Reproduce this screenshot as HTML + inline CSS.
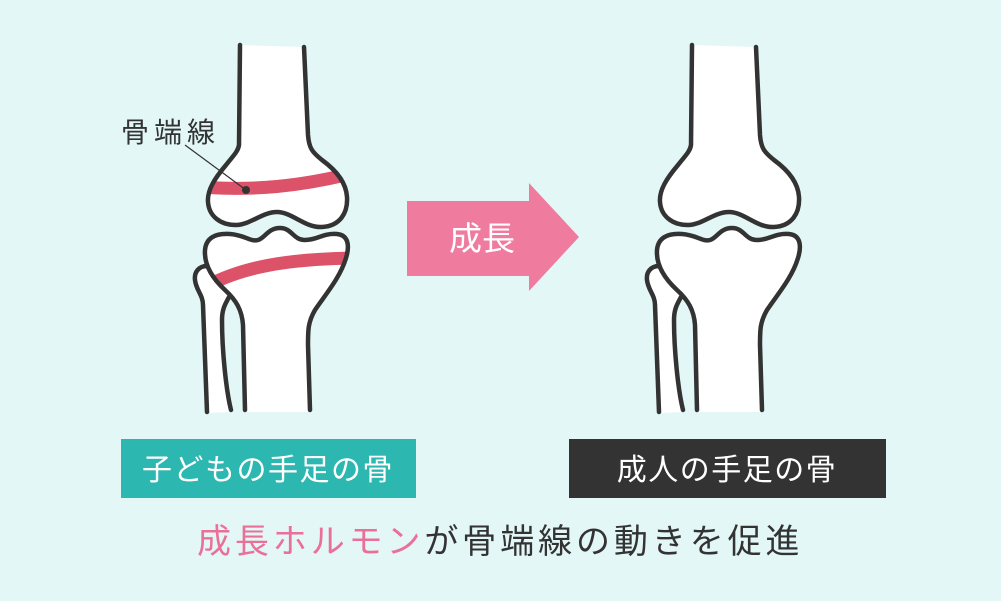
<!DOCTYPE html>
<html><head><meta charset="utf-8"><style>
html,body{margin:0;padding:0;background:#e3f7f7;}
svg{display:block;font-family:"Liberation Sans","Noto Sans CJK JP",sans-serif;}
</style></head><body>
<svg width="1001" height="601" viewBox="0 0 1001 601">
<rect width="1001" height="601" fill="#e3f7f7"/>
<defs>
<g id="bone">
<path id="fem" d="M240,45 L239,145 C238,152 232,157 226,165 C215,178 207,190 208,202 C209,216 220,225 236,225 C250,225 262,212 277,212 C292,212 305,228 322,227 C340,226 348,213 347,197 C346,180 333,168 322,160 C312,152 309,148 308,135 L304,47 Z" fill="#fff"/>
<path d="M211,266 C200,266 194,272 195,280 C196,290 203,295 203,305 L207,413 L231,412 C226,390 222,350 222,320 L229,297 Z" fill="#fff"/>
<path d="M245,412 L243,325 C242,310 236,300 225,290 C212,278 204,265 205,250 C206,238 215,233 230,234 C245,235 250,242 258,240 C265,238 268,228 280,228 C292,228 293,240 305,240 C318,240 322,233 337,234 C348,235 350,245 346,258 C340,278 325,295 315,310 C308,322 308,330 308,345 L310,412 Z" fill="#fff"/>
</g>
<g id="lines" fill="none" stroke="#333" stroke-width="4.5" stroke-linecap="round" stroke-linejoin="round">
<path d="M240,45 L239,145 C238,152 232,157 226,165 C215,178 207,190 208,202 C209,216 220,225 236,225 C250,225 262,212 277,212 C292,212 305,228 322,227 C340,226 348,213 347,197 C346,180 333,168 322,160 C312,152 309,148 308,135 L304,47"/>
<path d="M245,410 L243,325 C242,310 236,300 225,290 C212,278 204,265 205,250 C206,238 215,233 230,234 C245,235 250,242 258,240 C265,238 268,228 280,228 C292,228 293,240 305,240 C318,240 322,233 337,234 C348,235 350,245 346,258 C340,278 325,295 315,310 C308,322 308,330 308,345 L310,410"/>
<path d="M207,266 C199,266 194,272 195,280 C196,290 203,295 203,305 L207,412"/>
<path d="M229,297 C226,303 222,308 222,320 C222,350 226,390 231,410"/>
</g>
<clipPath id="cf"><path d="M240,45 L239,145 C238,152 232,157 226,165 C215,178 207,190 208,202 C209,216 220,225 236,225 C250,225 262,212 277,212 C292,212 305,228 322,227 C340,226 348,213 347,197 C346,180 333,168 322,160 C312,152 309,148 308,135 L304,47 Z"/></clipPath>
<clipPath id="ct"><path d="M245,412 L243,325 C242,310 236,300 225,290 C212,278 204,265 205,250 C206,238 215,233 230,234 C245,235 250,242 258,240 C265,238 268,228 280,228 C292,228 293,240 305,240 C318,240 322,233 337,234 C348,235 350,245 346,258 C340,278 325,295 315,310 C308,322 308,330 308,345 L310,412 Z"/></clipPath>
</defs>
<use href="#bone"/>
<path d="M200,187 C255,191 300,186 350,174" stroke="#db5269" stroke-width="13" fill="none" clip-path="url(#cf)"/>
<path d="M200,290 C240,266 290,259 355,258" stroke="#db5269" stroke-width="13" fill="none" clip-path="url(#ct)"/>
<use href="#lines"/>
<g transform="translate(452,0)"><use href="#bone"/><use href="#lines"/></g>
<line x1="185" y1="145" x2="246" y2="190" stroke="#333" stroke-width="1.2"/>
<circle cx="246" cy="190" r="4" fill="#333"/>
<text x="121" y="142" font-size="28" fill="#333" letter-spacing="5">骨端線</text>
<path d="M407,201 L529,201 L529,183 L579,237 L529,291 L529,276 L407,276 Z" fill="#ef7b9e"/>
<text x="482" y="250" font-size="33" fill="#fff" text-anchor="middle">成長</text>
<rect x="121" y="439" width="295" height="59" fill="#2cb7b1"/>
<text x="268" y="480" font-size="30" fill="#fff" text-anchor="middle" letter-spacing="1.5">子どもの手足の骨</text>
<rect x="569" y="439" width="317" height="59" fill="#333"/>
<text x="727" y="480" font-size="30" fill="#fff" text-anchor="middle" letter-spacing="1.5">成人の手足の骨</text>
<text x="197" y="553" font-size="34" fill="#333" letter-spacing="3.9"><tspan fill="#ea7098">成長ホルモン</tspan>が骨端線の動きを促進</text>
</svg>
</body></html>
